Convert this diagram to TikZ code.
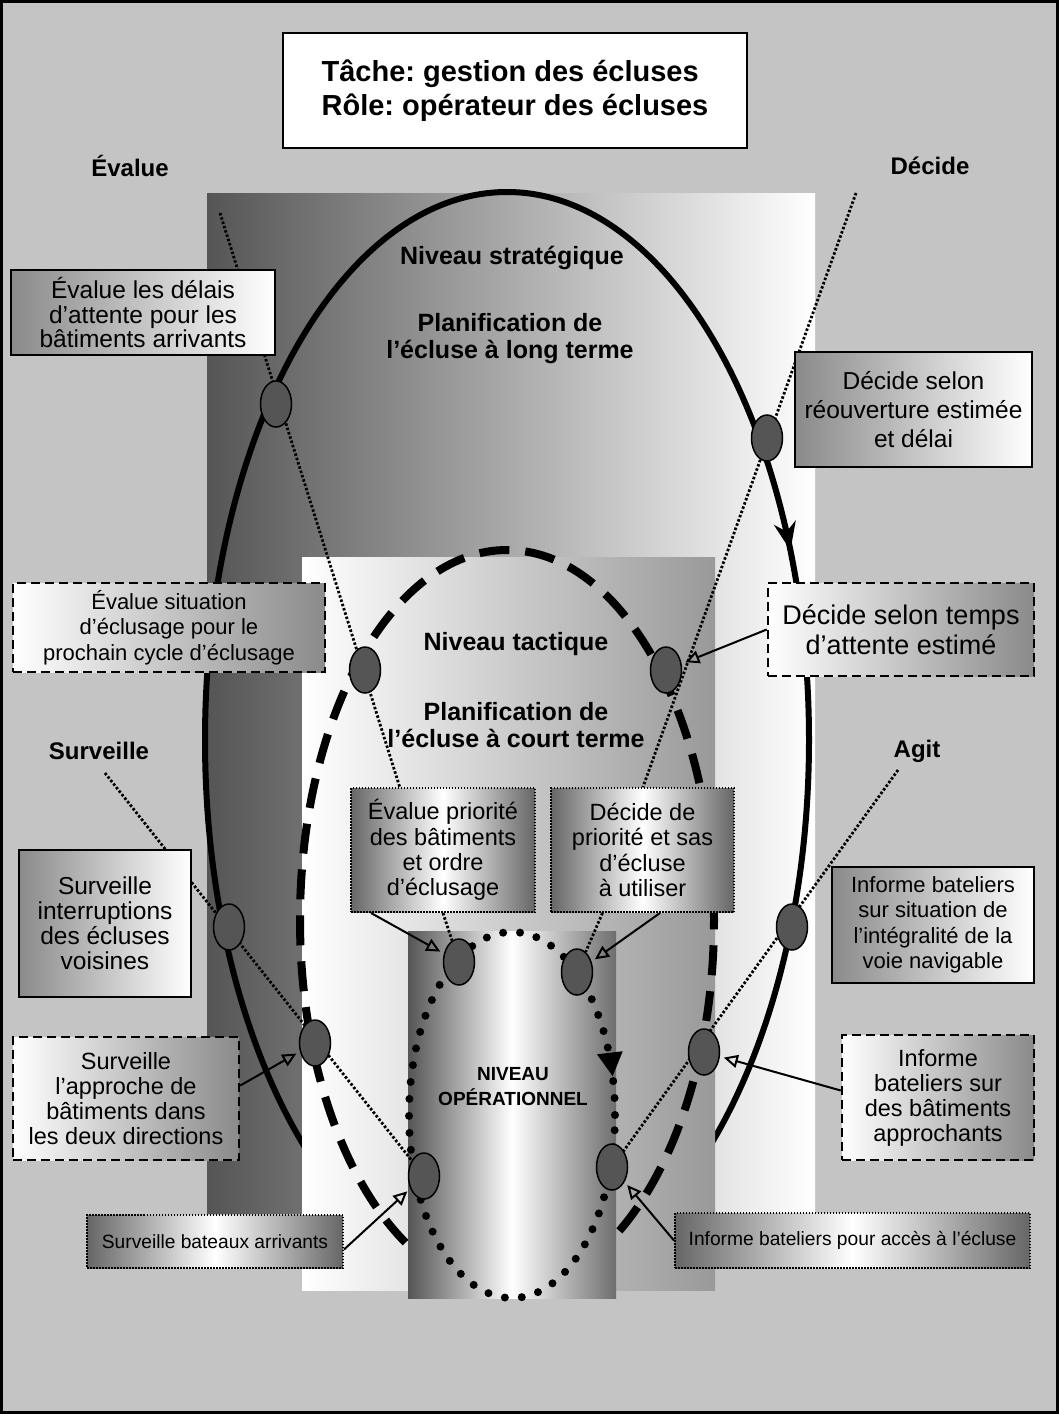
\documentclass[tikz,border=0pt]{standalone}
\usepackage{fontspec}
\setmainfont{Liberation Sans}
\usetikzlibrary{shapes.geometric, arrows.meta, positioning, decorations.markings}
\definecolor{bggray}{HTML}{C4C4C4}
\definecolor{stratdark}{HTML}{555555}
\definecolor{tactgray}{HTML}{999999}
\definecolor{opright}{HTML}{6E6E6E}
\definecolor{boxgray}{HTML}{8A8A8A}
\definecolor{cylgray}{HTML}{666666}
\definecolor{dotgray}{HTML}{555555}
\frenchspacing

\begin{document}
\begin{tikzpicture}[x=1pt, y=-1pt,
    verb/.style={font=\bfseries\fontsize{24}{28}\selectfont},
    lvltext/.style={font=\bfseries\fontsize{25}{27}\selectfont, align=center},
    solidbox/.style={draw=black, line width=2pt, left color=boxgray, right color=white,
                     align=center, inner sep=0pt, font=\fontsize{23.5}{25}\selectfont},
    dashbox/.style={draw=black, line width=2.5pt, dash pattern=on 9pt off 5pt,
                    left color=white, right color=boxgray,
                    align=center, inner sep=0pt, font=\fontsize{23.5}{25}\selectfont},
    dotbox/.style={draw=black, line width=2pt, dash pattern=on 1.5pt off 1.5pt,
                   left color=cylgray, right color=cylgray, middle color=white,
                   align=center, inner sep=0pt, font=\fontsize{23.5}{25.3}\selectfont},
    marker/.style={ellipse, draw=black, line width=1.5pt, fill=dotgray,
                   minimum width=31pt, minimum height=46pt, inner sep=0pt},
    guide/.style={line width=2.8pt, dash pattern=on 2.5pt off 2pt},
    arr/.style={-{Triangle[open, length=14pt, width=13pt]}, line width=2pt, shorten >=4pt}
]
\useasboundingbox (0,0) rectangle (1059,1414);
\draw[line width=3pt, fill=bggray] (1.5,1.5) rectangle (1057.5,1412.5);

% niveau strategique
\shade[left color=stratdark, right color=white] (207,193) rectangle (815,1213);
\draw[line width=6pt, postaction={decorate},
      decoration={markings, mark=at position 0.07 with
        {\arrowreversed{Stealth[length=28pt, width=22pt, inset=9pt]}}}]
  (507,740) ellipse [x radius=302pt, y radius=548pt];

% niveau tactique
\shade[left color=white, right color=tactgray] (302,557) rectangle (715,1290);
\draw[line width=8pt, dash pattern=on 30pt off 16pt]
  (507,920) ellipse [x radius=207pt, y radius=370pt];

% niveau operationnel
\shade[left color=stratdark, right color=opright, middle color=white] (408,931) rectangle (616,1298);
\draw[line width=8pt, line cap=round, dash pattern=on 0pt off 17pt, postaction={decorate},
      decoration={markings, mark=at position 0.042 with
        {\arrowreversed{Triangle[length=24pt, width=24pt]}}}]
  (512,1115) ellipse [x radius=103pt, y radius=183pt];

% lignes des fonctions
\coordinate (ev0) at (220,213);
\coordinate (ev1) at (400,788);
\coordinate (de0) at (856,193);
\coordinate (de1) at (643,787);
\coordinate (su0) at (105,773);
\coordinate (su1) at (424,1176);
\coordinate (ag0) at (898,770);
\coordinate (ag1) at (612,1167);
\draw[guide] (ev0) -- (ev1);
\draw[guide] (de0) -- (de1);
\draw[guide] (su0) -- (su1);
\draw[guide] (ag0) -- (ag1);

% points
\node[marker] (m1) at (276,404) {};
\node[marker] (m2) at (767,438) {};
\node[marker] (m3) at (365,670) {};
\node[marker] (m4) at (666,670) {};
\node[marker] (m5) at (229,927) {};
\node[marker] (m6) at (792,927) {};
\node[marker] (m7) at (315,1043) {};
\node[marker] (m8) at (704,1052) {};
\node[marker] (m9) at (459,962) {};
\node[marker] (m10) at (577,972) {};
\node[marker] (m11) at (424,1176) {};
\node[marker] (m12) at (612,1167) {};

% titre
\node[draw, line width=2pt, fill=white, minimum width=464pt, minimum height=115pt,
      align=left, font=\bfseries\fontsize{29}{34}\selectfont] (title) at (515,90.5)
  {Tâche: gestion des écluses\\Rôle: opérateur des écluses};

% boites
\node[solidbox, minimum width=264pt, minimum height=85pt, font=\fontsize{24.5}{24.5}\selectfont]
  (delais) at (143,312.5) {Évalue les délais\\d’attente pour les\\bâtiments arrivants};
\node[solidbox, minimum width=237pt, minimum height=115pt, font=\fontsize{24.5}{29}\selectfont]
  (reouv) at (913.5,409.5) {Décide selon\\réouverture estimée\\et délai};
\node[dashbox, minimum width=312pt, minimum height=89pt, font=\fontsize{22}{25.5}\selectfont]
  (cycle) at (169,627.5) {Évalue situation\\d’éclusage pour le\\prochain cycle d’éclusage};
\node[dashbox, minimum width=266pt, minimum height=93pt, font=\fontsize{27}{30}\selectfont]
  (temps) at (901,629.5) {Décide selon temps\\d’attente estimé};
\node[solidbox, minimum width=172pt, minimum height=147pt, font=\fontsize{24.5}{25}\selectfont]
  (interr) at (105,923.5) {Surveille\\interruptions\\des écluses\\voisines};
\node[solidbox, minimum width=202pt, minimum height=116pt, font=\fontsize{22}{25.5}\selectfont]
  (integr) at (933,925) {Informe bateliers\\sur situation de\\l’intégralité de la\\voie navigable};
\node[dashbox, minimum width=226pt, minimum height=123pt]
  (approche) at (126,1098.5) {Surveille\\l’approche de\\bâtiments dans\\les deux directions};
\node[dashbox, minimum width=192pt, minimum height=125pt]
  (approch) at (938,1097.5) {Informe\\bateliers sur\\des bâtiments\\approchants};
\node[dotbox, minimum width=184pt, minimum height=124pt]
  (prio) at (443,850) {Évalue priorité\\des bâtiments\\et ordre\\d’éclusage};
\node[dotbox, minimum width=183pt, minimum height=124pt]
  (sas) at (642.5,850) {Décide de\\priorité et sas\\d’écluse\\à utiliser};
\node[dotbox, minimum width=256pt, minimum height=53pt, font=\fontsize{19.2}{23}\selectfont]
  (bateaux) at (215,1241.5) {Surveille bateaux arrivants};
\node[dotbox, minimum width=355pt, minimum height=55pt, font=\fontsize{19.2}{23}\selectfont]
  (acces) at (852.5,1240.5) {Informe bateliers pour accès à l’écluse};

% liens
\draw[guide] (prio.south) -- (m9);
\draw[guide] ([xshift=-40pt]sas.south) -- (m10);
\draw[arr] (temps.west) -- (m4);
\draw[arr] ([xshift=21pt]prio.south west) -- (m9);
\draw[arr] ([xshift=-75pt]sas.south east) -- (m10);
\draw[arr] ([yshift=13pt]approche.east) -- (m7);
\draw[arr] ([yshift=7pt]approch.west) -- (m8);
\draw[arr] ([yshift=-8pt]bateaux.east) -- (m11);
\draw[arr] (acces.west) -- (m12);

% textes
\node[verb] (evalue) at (130,166) {Évalue};
\node[verb] (decide) at (930,166) {Décide};
\node[verb] (surv) at (99,751) {Surveille};
\node[verb] (agit) at (917,751) {Agit};
\node[lvltext] (strat) at (512,258) {Niveau stratégique};
\node[lvltext] (stratplan) at (510,339) {Planification de\\l’écluse à long terme};
\node[lvltext] (tact) at (516,644) {Niveau tactique};
\node[lvltext] (tactplan) at (516,725) {Planification de\\l’écluse à court terme};
\node[lvltext, font=\bfseries\fontsize{19}{25}\selectfont] (oper) at (513,1087) {NIVEAU\\OPÉRATIONNEL};
\end{tikzpicture}
\end{document}
